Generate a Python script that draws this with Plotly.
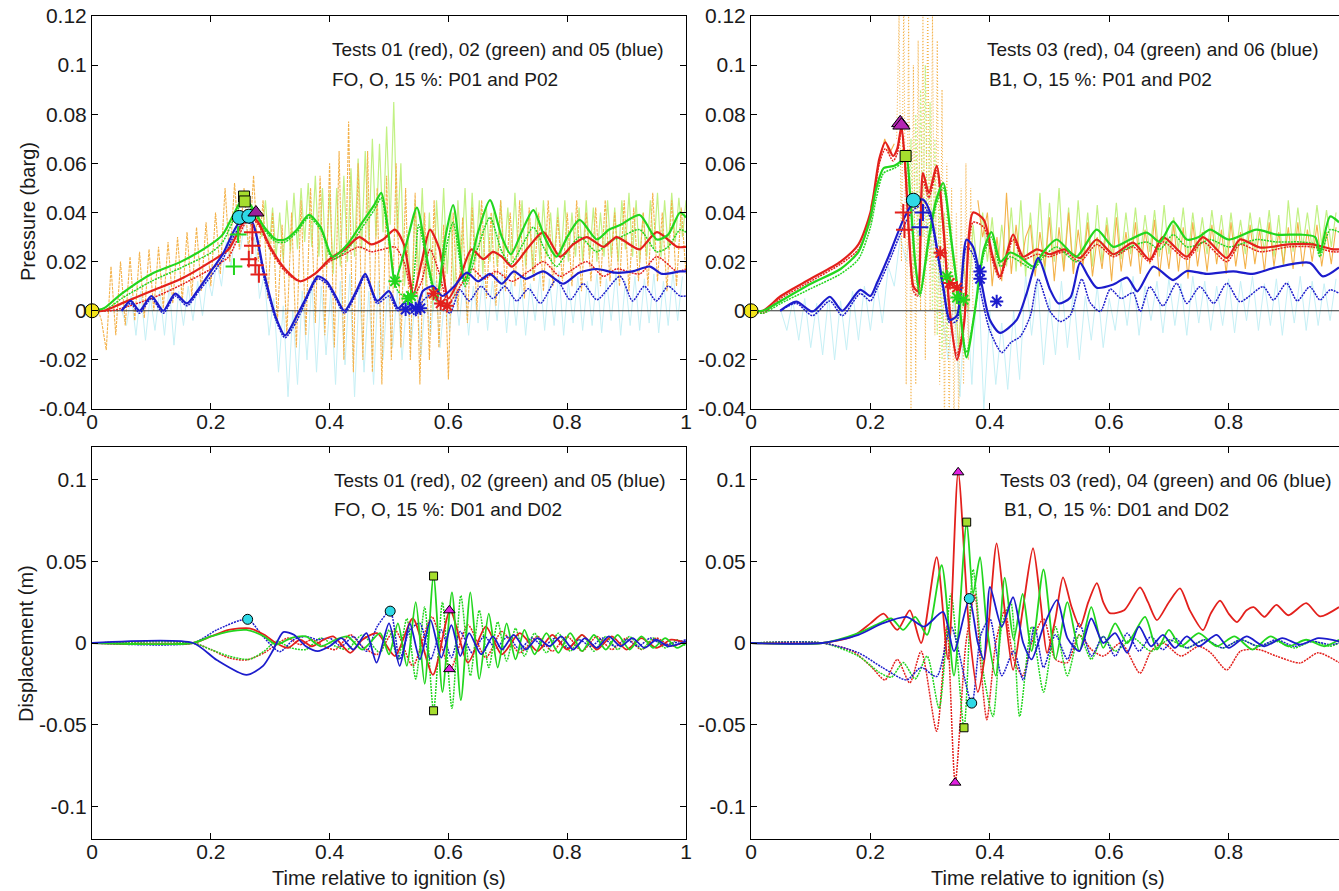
import plotly.graph_objects as go

W, H = 1339, 891

# ---------------- tick labels ----------------
x_tickvals = [0, 0.2, 0.4, 0.6, 0.8, 1.0]
x_ticktext = ["0", "0.2", "0.4", "0.6", "0.8", "1"]
p_tickvals = [-0.04, -0.02, 0, 0.02, 0.04, 0.06, 0.08, 0.1, 0.12]
p_ticktext = ["-0.04", "-0.02", "0", "0.02", "0.04", "0.06", "0.08", "0.1", "0.12"]
d_tickvals = [-0.1, -0.05, 0, 0.05, 0.1]
d_ticktext = ["-0.1", "-0.05", "0", "0.05", "0.1"]

# ---------------- TOP LEFT: FO, O, 15 %: P01 and P02 ----------------
tl_red_p01 = [(0.0,0.0),(0.02,0.0),(0.05,0.003),(0.10,0.008),(0.15,0.013),(0.20,0.020),(0.23,0.025),(0.25,0.034),
              (0.265,0.039),(0.28,0.036),(0.30,0.026),(0.325,0.017),(0.35,0.012),(0.375,0.015),(0.40,0.021),(0.425,0.025),
              (0.45,0.030),(0.47,0.027),(0.49,0.029),(0.51,0.033),(0.525,0.027),(0.541,0.007),(0.555,0.020),(0.569,0.033),
              (0.585,0.025),(0.60,0.005),(0.62,0.014),(0.639,0.025),(0.659,0.021),(0.675,0.024),(0.69,0.022),(0.707,0.018),
              (0.735,0.026),(0.76,0.032),(0.788,0.022),(0.81,0.027),(0.833,0.030),(0.861,0.026),(0.883,0.030),(0.905,0.027),
              (0.922,0.025),(0.951,0.032),(0.985,0.026),(1.0,0.026)]
tl_red_p02 = [(0.0,0.0),(0.03,0.0),(0.05,0.001),(0.10,0.005),(0.15,0.0105),(0.20,0.017),(0.23,0.022),(0.25,0.032),
              (0.265,0.038),(0.28,0.035),(0.30,0.025),(0.325,0.016),(0.35,0.012),(0.375,0.015),(0.40,0.020),(0.425,0.023),
              (0.45,0.026),(0.47,0.024),(0.49,0.025),(0.51,0.026),(0.525,0.020),(0.541,0.006),(0.555,0.012),(0.569,0.025),
              (0.585,0.015),(0.60,0.003),(0.62,0.010),(0.64,0.017),(0.66,0.013),(0.68,0.016),(0.707,0.012),(0.735,0.016),
              (0.76,0.020),(0.788,0.014),(0.81,0.017),(0.833,0.020),(0.861,0.014),(0.883,0.017),(0.922,0.015),(0.951,0.022),
              (0.985,0.016),(1.0,0.017)]
tl_green_p01 = [(0.0,0.0),(0.02,0.001),(0.05,0.007),(0.10,0.015),(0.15,0.020),(0.20,0.027),(0.22,0.031),(0.24,0.040),
                (0.255,0.046),(0.27,0.042),(0.29,0.034),(0.31,0.029),(0.325,0.029),(0.345,0.033),(0.365,0.039),(0.385,0.034),
                (0.405,0.022),(0.43,0.027),(0.455,0.036),(0.475,0.043),(0.487,0.048),(0.50,0.030),(0.51,0.012),(0.53,0.028),
                (0.547,0.042),(0.565,0.020),(0.58,0.005),(0.595,0.030),(0.608,0.043),(0.628,0.012),(0.65,0.032),(0.67,0.045),
                (0.69,0.030),(0.705,0.023),(0.725,0.033),(0.743,0.041),(0.762,0.030),(0.782,0.022),(0.80,0.030),(0.821,0.037),
                (0.85,0.029),(0.87,0.033),(0.89,0.035),(0.922,0.039),(0.951,0.029),(0.97,0.031),(0.99,0.040),(1.0,0.038)]
tl_green_p02 = [(0.0,0.0),(0.02,0.0),(0.05,0.005),(0.10,0.012),(0.15,0.0175),(0.20,0.0236),(0.22,0.028),(0.24,0.038),
                (0.255,0.045),(0.27,0.041),(0.29,0.033),(0.31,0.028),(0.325,0.028),(0.345,0.032),(0.365,0.038),(0.385,0.033),
                (0.405,0.021),(0.43,0.025),(0.455,0.034),(0.475,0.041),(0.487,0.046),(0.50,0.028),(0.515,0.008),(0.535,0.005),
                (0.55,0.035),(0.565,0.018),(0.58,0.004),(0.595,0.024),(0.608,0.036),(0.628,0.010),(0.65,0.026),(0.67,0.038),
                (0.69,0.024),(0.705,0.019),(0.725,0.027),(0.743,0.034),(0.762,0.025),(0.782,0.018),(0.80,0.024),(0.821,0.030),
                (0.85,0.024),(0.87,0.028),(0.89,0.030),(0.922,0.033),(0.951,0.024),(0.97,0.026),(0.99,0.033),(1.0,0.032)]
tl_blue_p01 = [(0.05,0.0),(0.065,0.004),(0.08,0.0),(0.10,0.006),(0.12,0.0),(0.14,0.007),(0.16,0.003),(0.18,0.009),
               (0.20,0.016),(0.22,0.023),(0.24,0.033),(0.255,0.038),(0.27,0.036),(0.29,0.015),(0.31,-0.003),(0.325,-0.010),
               (0.345,-0.002),(0.36,0.005),(0.38,0.014),(0.395,0.012),(0.41,0.006),(0.425,0.0),(0.445,0.008),(0.46,0.015),
               (0.48,0.004),(0.50,0.008),(0.515,0.001),(0.53,0.004),(0.545,0.0),(0.557,0.008),(0.574,0.010),(0.59,0.006),
               (0.61,0.010),(0.631,0.0155),(0.65,0.012),(0.67,0.015),(0.69,0.011),(0.71,0.016),(0.73,0.013),(0.76,0.016),
               (0.793,0.011),(0.82,0.0155),(0.85,0.017),(0.88,0.0155),(0.91,0.016),(0.939,0.018),(0.96,0.015),(0.99,0.016),
               (1.0,0.016)]
tl_blue_p02 = [(0.05,0.0),(0.065,0.003),(0.08,-0.001),(0.10,0.005),(0.12,-0.001),(0.14,0.006),(0.16,0.002),(0.18,0.008),
               (0.20,0.014),(0.22,0.021),(0.24,0.031),(0.255,0.036),(0.27,0.035),(0.29,0.013),(0.31,-0.004),(0.325,-0.011),
               (0.345,-0.004),(0.36,0.004),(0.38,0.013),(0.395,0.011),(0.41,0.005),(0.425,-0.001),(0.445,0.007),(0.46,0.014),
               (0.48,0.003),(0.50,0.006),(0.515,0.0),(0.53,0.002),(0.545,-0.002),(0.557,0.004),(0.574,0.007),(0.59,0.002),
               (0.603,-0.001),(0.619,0.0086),(0.635,0.004),(0.655,0.010),(0.675,0.005),(0.695,0.010),(0.715,0.004),
               (0.735,0.009),(0.755,0.003),(0.782,0.0127),(0.805,0.0045),(0.827,0.011),(0.85,0.0045),(0.889,0.014),
               (0.91,0.004),(0.93,0.010),(0.95,0.004),(0.97,0.010),(0.99,0.006),(1.0,0.006)]

# raw (unfiltered) pressure traces, top left
tl_orange_start, tl_orange_step = 0.0, 0.008
tl_orange = [0.0,0.002,-0.004,-0.016,0.018,-0.010,0.020,-0.006,0.022,-0.004,0.024,-0.003,0.025,0.000,0.026,0.001,
             0.028,0.003,0.030,0.004,0.032,0.006,0.034,0.008,0.036,0.010,0.040,0.015,0.050,0.020,0.052,0.025,
             0.050,0.024,0.055,0.020,0.045,0.005,0.040,-0.005,0.035,-0.010,0.040,-0.015,0.045,-0.010,0.050,-0.005,
             0.055,-0.010,0.060,-0.015,0.065,-0.020,0.077,-0.025,0.060,-0.020,0.065,-0.025,0.050,-0.030,0.055,-0.020,
             0.060,-0.015,0.050,-0.020,0.048,-0.030,0.040,-0.020,0.045,-0.015,0.035,-0.028,0.040,0.000,0.038,-0.005,
             0.042,0.000,0.045,0.005,0.040,0.002,0.045,0.008,0.040,0.010,0.045,0.005,0.042,0.012,0.040,0.008,
             0.045,0.010,0.038,0.012,0.040,0.010,0.045,0.008,0.040,0.012,0.042,0.010,0.045,0.012,0.040,0.010,
             0.045,0.008,0.042,0.012,0.040,0.010,0.048,0.012,0.040,0.008,0.045,0.010,0.042,0.015]
tl_lgreen_start, tl_lgreen_step = 0.28, 0.006
tl_lgreen = [0.040,0.030,0.045,0.025,0.042,0.022,0.040,0.020,0.045,0.024,0.048,0.025,0.050,0.028,
             0.052,0.026,0.055,0.022,0.050,0.018,0.048,0.015,0.050,0.018,0.055,0.020,0.058,0.022,
             0.062,0.025,0.065,0.028,0.070,0.030,0.068,0.032,0.075,0.035,0.085,0.030,0.060,0.010,
             0.030,0.002,0.045,0.015,0.050,0.010,0.040,0.000,0.045,0.020,0.050,0.015,0.040,0.005,
             0.045,0.020,0.050,0.015,0.048,0.020,0.045,0.015,0.042,0.020,0.040,0.018,0.045,0.022,
             0.042,0.020,0.048,0.022,0.045,0.018,0.040,0.015,0.042,0.020,0.045,0.022,0.040,0.020,
             0.042,0.022,0.045,0.020,0.040,0.022,0.042,0.020,0.045,0.022,0.042,0.020,0.040,0.022,
             0.045,0.022,0.042,0.020,0.045,0.025,0.048,0.022,0.045,0.020,0.040,0.022,0.045,0.025,
             0.048,0.022,0.045,0.025,0.048,0.028,0.046,0.030,0.045]
tl_lcyan_start, tl_lcyan_step = 0.05, 0.008
tl_lcyan = [0.0,-0.006,0.006,-0.010,0.008,-0.012,0.006,-0.008,0.008,-0.010,0.010,-0.014,0.008,-0.006,0.010,-0.004,0.012,-0.002,0.014,
            0.006,0.020,0.010,0.028,0.018,0.034,0.025,0.038,0.020,0.030,0.005,0.015,-0.010,
            0.005,-0.025,0.002,-0.035,0.000,-0.030,0.008,-0.020,0.012,-0.025,0.010,-0.018,0.008,-0.030,0.012,-0.022,0.015,-0.035,0.010,-0.025,0.008,-0.030,0.012,-0.020,0.010,
            -0.015,0.008,-0.020,0.005,-0.012,0.010,-0.018,0.008,-0.010,0.012,-0.015,0.006,
            -0.008,0.012,-0.006,0.014,-0.010,0.010,-0.005,0.015,-0.008,0.012,
            -0.004,0.016,-0.009,0.012,-0.006,0.014,-0.010,0.011,-0.004,0.015,
            -0.008,0.013,-0.006,0.016,-0.010,0.012,-0.005,0.014,-0.008,0.012,
            -0.006,0.015,-0.009,0.013,-0.004,0.016,-0.010,0.012,-0.006,0.014,
            -0.008,0.013,-0.005,0.015,-0.009,0.012,-0.006,0.016,-0.004,0.014]

# markers, top left
tl_m_yellow = [(0.0, 0.0)]
tl_m_square = [(0.256, 0.0465), (0.257, 0.0445)]
tl_m_cyan = [(0.248, 0.038), (0.264, 0.0385)]
tl_m_tri = [(0.276, 0.040)]
tl_m_red_plus = [(0.27,0.032),(0.27,0.0265),(0.264,0.021),(0.275,0.0185),(0.281,0.0148)]
tl_m_green_plus = [(0.239,0.018),(0.246,0.031)]
tl_m_green_star = [(0.51,0.012),(0.532,0.005),(0.537,0.006)]
tl_m_blue_star = [(0.528,0.0005),(0.545,0.001),(0.553,0.001)]
tl_m_red_star = [(0.575,0.007),(0.587,0.003),(0.598,0.002)]

# ---------------- TOP RIGHT: B1, O, 15 %: P01 and P02 ----------------
tr_red_p01 = [(0.0,0.0),(0.02,0.0),(0.05,0.006),(0.10,0.013),(0.15,0.020),(0.18,0.027),(0.20,0.040),(0.215,0.062),
              (0.225,0.0686),(0.238,0.063),(0.245,0.066),(0.252,0.075),(0.258,0.060),(0.265,0.030),(0.272,0.010),
              (0.279,0.008),(0.288,0.056),(0.298,0.048),(0.311,0.059),(0.322,0.035),(0.333,0.0),(0.345,-0.020),
              (0.357,-0.005),(0.372,0.040),(0.39,0.037),(0.405,0.022),(0.417,0.014),(0.439,0.031),(0.456,0.022),
              (0.479,0.025),(0.50,0.023),(0.525,0.025),(0.551,0.0215),(0.579,0.029),(0.607,0.023),(0.64,0.0277),
              (0.668,0.0208),(0.69,0.030),(0.73,0.022),(0.757,0.030),(0.797,0.0215),(0.819,0.029),(0.853,0.0257),
              (0.90,0.027),(0.94,0.027),(0.975,0.025),(0.985,0.025)]
tr_red_p02 = [(0.0,0.0),(0.02,-0.001),(0.05,0.005),(0.10,0.012),(0.15,0.019),(0.18,0.025),(0.20,0.037),(0.215,0.060),
              (0.225,0.066),(0.238,0.061),(0.245,0.064),(0.252,0.074),(0.258,0.058),(0.265,0.028),(0.272,0.008),
              (0.279,0.006),(0.288,0.053),(0.298,0.046),(0.311,0.057),(0.322,0.033),(0.333,-0.002),(0.345,-0.018),
              (0.357,-0.004),(0.372,0.036),(0.39,0.034),(0.405,0.020),(0.417,0.013),(0.439,0.029),(0.456,0.021),
              (0.479,0.023),(0.50,0.022),(0.525,0.024),(0.551,0.020),(0.579,0.027),(0.607,0.022),(0.64,0.026),
              (0.668,0.020),(0.69,0.028),(0.73,0.021),(0.757,0.028),(0.797,0.020),(0.819,0.027),(0.853,0.024),
              (0.90,0.026),(0.94,0.026),(0.975,0.024),(0.985,0.024)]
tr_green_p01 = [(0.0,0.0),(0.02,0.0),(0.05,0.004),(0.10,0.011),(0.15,0.017),(0.18,0.024),(0.20,0.038),(0.21,0.050),
                (0.222,0.058),(0.24,0.059),(0.252,0.061),(0.26,0.063),(0.267,0.045),(0.275,0.020),(0.283,0.007),
                (0.298,0.030),(0.31,0.045),(0.322,0.052),(0.335,0.030),(0.348,0.005),(0.361,-0.019),(0.375,0.0),
                (0.39,0.025),(0.403,0.032),(0.418,0.020),(0.434,0.0237),(0.45,0.022),(0.473,0.018),(0.49,0.024),
                (0.512,0.029),(0.545,0.022),(0.579,0.033),(0.607,0.026),(0.635,0.029),(0.663,0.0318),(0.685,0.028),
                (0.707,0.0364),(0.73,0.029),(0.75,0.030),(0.769,0.033),(0.80,0.029),(0.847,0.033),(0.88,0.031),
                (0.92,0.031),(0.945,0.030),(0.953,0.0236),(0.97,0.0384),(0.985,0.036)]
tr_green_p02 = [(0.0,0.0),(0.02,-0.001),(0.05,0.003),(0.10,0.009),(0.15,0.015),(0.18,0.021),(0.20,0.034),(0.21,0.046),
                (0.222,0.056),(0.24,0.058),(0.252,0.060),(0.26,0.062),(0.267,0.044),(0.275,0.019),(0.283,0.006),
                (0.298,0.028),(0.31,0.043),(0.322,0.050),(0.335,0.028),(0.348,0.004),(0.361,-0.017),(0.375,0.0),
                (0.39,0.023),(0.403,0.030),(0.418,0.018),(0.434,0.022),(0.45,0.020),(0.473,0.017),(0.49,0.022),
                (0.512,0.026),(0.545,0.020),(0.579,0.029),(0.607,0.023),(0.635,0.026),(0.663,0.028),(0.685,0.025),
                (0.707,0.031),(0.73,0.026),(0.75,0.027),(0.769,0.029),(0.80,0.026),(0.847,0.029),(0.88,0.028),
                (0.92,0.028),(0.945,0.027),(0.953,0.022),(0.97,0.033),(0.985,0.032)]
tr_blue_p01 = [(0.049,0.0),(0.076,0.0037),(0.103,-0.0003),(0.132,0.0057),(0.153,0.0),(0.183,0.0085),(0.20,0.006),
               (0.211,0.0113),(0.233,0.0236),(0.255,0.037),(0.272,0.044),(0.288,0.0453),(0.30,0.040),(0.322,0.0099),
               (0.333,-0.0037),(0.345,-0.002),(0.361,0.029),(0.372,0.026),(0.386,0.0113),(0.40,-0.0037),(0.417,-0.009),
               (0.445,-0.0037),(0.462,0.0073),(0.481,0.0215),(0.501,0.0086),(0.515,0.003),(0.535,0.0054),(0.551,0.0195),
               (0.565,0.014),(0.579,0.0094),(0.607,0.0107),(0.63,0.0135),(0.647,0.0079),(0.674,0.018),(0.707,0.0125),
               (0.73,0.0162),(0.763,0.015),(0.808,0.016),(0.84,0.015),(0.88,0.0177),(0.936,0.0195),(0.958,0.014),
               (0.985,0.0177)]
tr_blue_p02 = [(0.049,0.0),(0.076,0.003),(0.103,-0.002),(0.132,0.004),(0.153,-0.002),(0.183,0.007),(0.20,0.004),
               (0.211,0.009),(0.233,0.021),(0.255,0.034),(0.272,0.041),(0.288,0.043),(0.30,0.038),(0.322,0.008),
               (0.333,-0.005),(0.345,-0.004),(0.361,0.026),(0.372,0.023),(0.386,0.006),(0.40,-0.008),(0.42,-0.017),
               (0.435,-0.013),(0.451,-0.0105),(0.468,-0.002),(0.481,0.0129),(0.501,-0.0003),(0.518,-0.0044),
               (0.535,-0.0017),(0.554,0.0129),(0.568,0.0033),(0.585,-0.0003),(0.602,0.0088),(0.62,0.005),(0.64,0.0073),
               (0.652,-0.0003),(0.668,0.0098),(0.69,0.002),(0.713,0.0112),(0.73,0.003),(0.752,0.0098),(0.775,0.003),
               (0.797,0.0112),(0.819,0.0037),(0.858,0.0098),(0.875,0.0044),(0.897,0.0112),(0.915,0.004),(0.936,0.0098),
               (0.953,0.0044),(0.97,0.0085),(0.985,0.0071)]

# raw traces, top right
tr_orange_a_start, tr_orange_a_step = 0.20, 0.008
tr_orange_a = [0.042,0.050,0.062,0.070,0.064,0.068]
tr_orange_b_start, tr_orange_b_step = 0.244, 0.004
tr_orange_b = [0.07,0.12,0.02,0.13,-0.03,0.12,-0.04,0.10,-0.03,0.11,0.0,0.12,-0.02,0.13,0.0,0.12,-0.01,0.11,-0.03,
               0.09,-0.05,0.06,-0.05,0.05,-0.05,0.04,-0.05,0.05,-0.03,0.06,-0.02,0.05,0.0]
tr_orange_c_start, tr_orange_c_step = 0.38, 0.008
tr_orange_c = [0.045,0.030,0.040,0.010,0.030,0.012,0.048,0.015,0.035,0.018,0.030,
               0.035,0.014,0.032,0.018,0.038,0.012,0.034,0.016,0.040,0.015,
               0.033,0.018,0.036,0.014,0.030,0.017,0.035,0.012,0.038,0.016,
               0.032,0.018,0.036,0.015,0.033,0.019,0.037,0.014,0.031,0.017,
               0.035,0.016,0.034,0.013,0.036,0.018,0.032,0.016,0.035,0.019,
               0.033,0.015,0.036,0.018,0.032,0.017,0.035,0.019,0.033,0.016,
               0.036,0.018,0.032,0.019,0.034,0.017,0.036,0.018,0.033,0.020,
               0.035,0.018,0.032,0.019,0.034]
tr_lgreen_a_start, tr_lgreen_a_step = 0.26, 0.004
tr_lgreen_a = [0.06,0.03,0.07,0.01,0.08,0.02,0.09,0.03,0.10,0.02,0.085,0.0,0.07,-0.01,0.05,-0.02,0.04,-0.015,0.03]
tr_lgreen_b_start, tr_lgreen_b_step = 0.34, 0.008
tr_lgreen_b = [0.01,-0.015,0.02,0.0,0.035,0.015,0.04,0.02,0.038,0.015,0.035,
               0.018,0.042,0.016,0.045,0.014,0.040,0.018,0.048,0.015,0.044,
               0.020,0.050,0.018,0.042,0.016,0.045,0.020,0.040,0.018,0.043,
               0.020,0.038,0.022,0.044,0.021,0.040,0.023,0.042,0.022,0.039,
               0.024,0.041,0.022,0.043,0.023,0.038,0.025,0.042,0.022,0.040,
               0.024,0.038,0.023,0.041,0.025,0.039,0.022,0.040,0.024,0.037,
               0.023,0.040,0.025,0.038,0.024,0.041,0.022,0.039,0.018,0.045,
               0.024,0.042,0.026,0.040,0.025,0.043,0.027,0.041,0.026,0.040]
tr_lcyan_start, tr_lcyan_step = 0.05, 0.01
tr_lcyan = [0.0,-0.008,0.004,-0.012,0.005,-0.015,0.003,-0.018,0.006,-0.02,0.004,-0.016,0.008,-0.012,0.010,-0.008,0.012,-0.005,0.018,0.010,
            0.030,0.020,0.040,0.030,0.042,0.025,0.030,0.0,
            -0.02,0.005,-0.035,0.01,-0.03,0.02,-0.04,0.0,-0.03,-0.005,-0.032,0.0,-0.028,0.015,
            -0.01,0.012,-0.022,0.005,-0.018,0.012,-0.015,0.008,-0.02,0.006,-0.012,0.010,-0.015,0.005,
            -0.008,0.012,-0.006,0.014,-0.010,0.010,-0.004,0.012,-0.009,0.013,
            -0.006,0.011,-0.010,0.014,-0.005,0.012,-0.008,0.010,-0.006,0.013,
            -0.009,0.012,-0.004,0.014,-0.008,0.011,-0.006,0.013,-0.010,0.012,
            -0.005,0.014,-0.008,0.012,-0.006,0.011,-0.004,0.013]

# markers, top right
tr_m_yellow = [(0.0, 0.0)]
tr_m_tri = [(0.250, 0.0765), (0.252, 0.0755)]
tr_m_square = [(0.259, 0.063)]
tr_m_cyan = [(0.272, 0.045)]
tr_m_red_plus = [(0.255, 0.040), (0.257, 0.033)]
tr_m_blue_plus = [(0.288, 0.040), (0.283, 0.034)]
tr_m_red_star = [(0.317, 0.0236), (0.333, 0.0113), (0.345, 0.0094)]
tr_m_green_star = [(0.328, 0.014), (0.345, 0.0054), (0.356, 0.0045)]
tr_m_blue_star = [(0.3836, 0.016), (0.3836, 0.013), (0.4115, 0.0038)]

# ---------------- BOTTOM LEFT: FO, O, 15 %: D01 and D02 ----------------
bl_red_d01 = [(0.0,0.0),(0.17,0.0),(0.20,0.004),(0.23,0.008),(0.265,0.009),(0.29,0.005),(0.31,0.0),(0.33,-0.003),
              (0.35,0.002),(0.37,-0.002),(0.39,0.002),(0.406,0.004),(0.435,-0.006),(0.455,0.002),(0.48,0.006),
              (0.51,-0.008),(0.54,0.015),(0.574,-0.0195),(0.603,0.020),(0.633,-0.012),(0.663,0.010),(0.69,-0.007),
              (0.72,0.006),(0.75,-0.005),(0.775,0.005),(0.80,-0.004),(0.825,0.005),(0.85,-0.004),(0.875,0.004),
              (0.90,-0.004),(0.925,0.003),(0.95,-0.003),(0.975,0.002),(1.0,0.0)]
bl_red_d02 = [(0.0,0.0),(0.17,0.0),(0.20,-0.004),(0.23,-0.009),(0.26,-0.0104),(0.29,-0.006),(0.31,-0.001),(0.33,0.003),
              (0.35,-0.001),(0.37,0.002),(0.39,-0.002),(0.41,-0.004),(0.435,0.005),(0.455,-0.002),(0.48,-0.007),
              (0.51,0.008),(0.54,-0.014),(0.572,0.016),(0.603,-0.016),(0.633,0.011),(0.663,-0.009),(0.69,0.007),
              (0.72,-0.006),(0.75,0.004),(0.775,-0.005),(0.80,0.004),(0.825,-0.005),(0.85,0.004),(0.875,-0.004),
              (0.90,0.003),(0.925,-0.004),(0.95,0.003),(0.975,-0.002),(1.0,0.001)]
bl_green_d01 = [(0.0,0.0),(0.17,0.0),(0.20,0.004),(0.23,0.007),(0.26,0.008),(0.29,0.004),(0.31,-0.001),(0.335,0.003),
                (0.36,0.004),(0.385,-0.002),(0.41,0.002),(0.43,0.004),(0.455,-0.004),(0.485,0.006),(0.50,-0.007),
                (0.515,0.012),(0.53,-0.014),(0.545,0.025),(0.56,-0.025),(0.575,0.041),(0.59,-0.030),(0.606,0.031),
                (0.621,-0.035),(0.637,0.031),(0.652,-0.022),(0.668,0.018),(0.683,-0.015),(0.698,0.012),(0.713,-0.010),
                (0.728,0.008),(0.745,-0.007),(0.765,0.006),(0.785,-0.006),(0.805,0.006),(0.825,-0.005),(0.845,0.005),
                (0.865,-0.004),(0.885,0.005),(0.905,-0.004),(0.925,0.004),(0.945,-0.003),(0.965,0.003),(0.985,-0.003),
                (1.0,0.0)]
bl_green_d02 = [(0.0,0.0),(0.17,0.0),(0.20,-0.004),(0.23,-0.008),(0.265,-0.010),(0.29,-0.005),(0.31,0.001),(0.335,-0.003),
                (0.36,-0.004),(0.385,0.003),(0.41,-0.002),(0.43,-0.004),(0.455,0.005),(0.485,-0.006),(0.50,0.008),
                (0.515,-0.010),(0.53,0.015),(0.545,-0.022),(0.56,0.022),(0.575,-0.0415),(0.59,0.025),(0.606,-0.040),
                (0.621,0.029),(0.637,-0.020),(0.652,0.020),(0.668,-0.015),(0.683,0.013),(0.698,-0.011),(0.713,0.009),
                (0.728,-0.008),(0.745,0.006),(0.765,-0.006),(0.785,0.006),(0.805,-0.005),(0.825,0.005),(0.845,-0.005),
                (0.865,0.004),(0.885,-0.004),(0.905,0.004),(0.925,-0.004),(0.945,0.003),(0.965,-0.003),(0.985,0.002),
                (1.0,-0.002)]
bl_blue_d01 = [(0.0,0.0),(0.17,0.0),(0.21,-0.0104),(0.26,-0.0195),(0.288,-0.014),(0.305,-0.0043),(0.322,0.0067),
               (0.34,0.005),(0.36,-0.002),(0.38,-0.005),(0.40,-0.002),(0.42,0.003),(0.44,-0.004),(0.462,0.006),
               (0.479,-0.012),(0.50,0.012),(0.518,-0.014),(0.535,0.012),(0.552,-0.010),(0.57,0.014),(0.588,-0.009),
               (0.605,0.011),(0.62,-0.008),(0.635,0.006),(0.655,-0.007),(0.675,0.004),(0.69,-0.004),(0.71,0.005),
               (0.73,-0.004),(0.75,0.003),(0.77,-0.002),(0.79,0.004),(0.81,-0.004),(0.83,0.003),(0.85,-0.003),
               (0.87,0.004),(0.89,-0.002),(0.91,0.003),(0.93,-0.003),(0.95,0.002),(0.97,-0.002),(1.0,0.001)]
bl_blue_d02 = [(0.0,0.0),(0.17,0.0),(0.21,0.008),(0.262,0.0145),(0.288,0.004),(0.316,-0.0053),(0.339,0.002),
               (0.36,0.004),(0.38,0.002),(0.40,0.003),(0.42,-0.002),(0.44,0.004),(0.462,-0.005),(0.48,0.010),
               (0.502,0.0195),(0.518,-0.010),(0.535,0.008),(0.552,0.012),(0.57,-0.010),(0.588,0.008),(0.605,-0.009),
               (0.62,0.007),(0.64,-0.006),(0.66,0.004),(0.68,-0.003),(0.70,0.004),(0.72,-0.004),(0.74,0.003),
               (0.76,-0.002),(0.78,0.003),(0.80,-0.003),(0.82,0.002),(0.84,-0.002),(0.86,0.003),(0.88,-0.002),
               (0.90,0.002),(0.92,-0.002),(0.94,0.003),(0.96,-0.001),(1.0,0.002)]
bl_m_cyan = [(0.262, 0.0145), (0.502, 0.0195)]
bl_m_square = [(0.575, 0.041), (0.575, -0.0415)]
bl_m_tri = [(0.6016, 0.020), (0.6016, -0.016)]

# ---------------- BOTTOM RIGHT: B1, O, 15 %: D01 and D02 ----------------
br_red_d01 = [(0.0,0.0),(0.12,0.0),(0.17,0.004),(0.20,0.012),(0.222,0.018),(0.245,0.008),(0.266,0.020),(0.285,0.0),
              (0.311,0.0526),(0.33,-0.01),(0.347,0.1045),(0.365,0.01),(0.38,-0.03),(0.395,0.0),(0.4115,0.061),
              (0.425,0.02),(0.439,-0.0165),(0.455,0.02),(0.4724,0.058),(0.485,0.025),(0.4958,-0.0061),(0.51,0.015),
              (0.5226,0.0402),(0.537,0.022),(0.551,0.0098),(0.565,0.025),(0.5794,0.0366),(0.59,0.025),(0.601,0.0183),
              (0.625,0.02),(0.6516,0.034),(0.665,0.025),(0.68,0.014),(0.70,0.025),(0.7186,0.0335),(0.735,0.02),
              (0.7571,0.0079),(0.77,0.018),(0.7856,0.026),(0.80,0.018),(0.814,0.0128),(0.83,0.02),(0.842,0.022),
              (0.86,0.016),(0.88,0.0234),(0.90,0.017),(0.93,0.0244),(0.953,0.0163),(0.985,0.022)]
br_red_d02 = [(0.0,0.0),(0.12,0.0),(0.17,-0.005),(0.20,-0.014),(0.2245,-0.0226),(0.245,-0.010),(0.266,-0.0244),
              (0.285,-0.005),(0.311,-0.054),(0.328,0.01),(0.342,-0.0855),(0.36,0.0),(0.375,0.03),(0.384,-0.01),
              (0.395,-0.047),(0.41,0.0),(0.425,0.02),(0.44,-0.01),(0.455,-0.02),(0.47,0.0),(0.49,0.015),(0.51,-0.01),
              (0.53,-0.012),(0.55,0.005),(0.57,-0.004),(0.59,-0.008),(0.62,0.0),(0.6516,-0.0185),(0.67,-0.005),
              (0.69,0.0),(0.72,-0.008),(0.75,-0.002),(0.77,-0.006),(0.797,-0.0165),(0.82,-0.005),(0.85,-0.004),
              (0.88,-0.008),(0.92,-0.0122),(0.95,-0.006),(0.985,-0.012)]
br_green_d01 = [(0.0,0.0),(0.12,0.0),(0.18,0.006),(0.215,0.012),(0.235,0.015),(0.255,0.008),(0.275,0.016),(0.295,0.005),
                (0.3194,0.0476),(0.34,-0.02),(0.3613,0.074),(0.372,0.03),(0.3836,0.0526),(0.395,0.01),(0.41,-0.02),
                (0.425,0.04),(0.44,0.002),(0.455,0.03),(0.47,-0.005),(0.49,0.045),(0.51,-0.01),(0.53,0.025),(0.55,-0.005),
                (0.57,0.022),(0.59,-0.003),(0.61,0.012),(0.63,0.0),(0.66,0.016),(0.68,-0.004),(0.70,0.008),(0.72,-0.002),
                (0.75,0.006),(0.78,-0.002),(0.81,0.004),(0.84,-0.004),(0.87,0.004),(0.90,-0.002),(0.93,0.002),
                (0.96,-0.002),(0.985,0.002)]
br_green_d02 = [(0.0,0.0),(0.12,0.0),(0.18,-0.008),(0.215,-0.018),(0.235,-0.021),(0.255,-0.012),(0.275,-0.022),
                (0.295,-0.008),(0.315,-0.04),(0.335,0.03),(0.3568,-0.0519),(0.372,0.045),(0.39,-0.02),(0.4054,-0.045),
                (0.42,0.01),(0.435,0.025),(0.45,-0.045),(0.47,0.01),(0.49,-0.03),(0.51,0.01),(0.53,-0.02),(0.55,0.005),
                (0.57,-0.01),(0.59,0.004),(0.61,-0.005),(0.64,0.003),(0.67,-0.005),(0.70,0.002),(0.73,-0.003),
                (0.76,0.002),(0.79,-0.003),(0.82,0.002),(0.85,-0.002),(0.88,0.001),(0.91,-0.003),(0.94,0.001),
                (0.97,-0.002),(0.985,0.0)]
br_blue_d01 = [(0.0,0.0),(0.12,0.0),(0.18,0.005),(0.22,0.012),(0.2608,0.016),(0.29,0.010),(0.3216,0.019),(0.34,-0.005),
               (0.3657,0.0272),(0.38,0.0),(0.39,-0.01),(0.4003,0.0343),(0.42,0.01),(0.439,0.028),(0.456,0.0),
               (0.47,-0.01),(0.49,0.01),(0.5126,0.0262),(0.53,0.003),(0.55,-0.005),(0.57,0.015),(0.59,0.0),(0.61,0.006),
               (0.63,-0.006),(0.65,0.010),(0.67,-0.002),(0.69,0.005),(0.71,-0.003),(0.73,0.004),(0.75,-0.002),
               (0.78,0.005),(0.80,-0.003),(0.83,0.004),(0.86,-0.002),(0.89,0.003),(0.92,-0.001),(0.95,0.003),
               (0.985,0.001)]
br_blue_d02 = [(0.0,0.0),(0.12,0.0),(0.18,-0.006),(0.22,-0.015),(0.2608,-0.0226),(0.285,-0.015),(0.311,-0.0205),
               (0.335,0.01),(0.3697,-0.0368),(0.385,0.005),(0.40,0.015),(0.42,-0.02),(0.44,-0.005),(0.456,-0.0226),
               (0.475,0.01),(0.49,-0.015),(0.51,0.005),(0.53,-0.01),(0.55,0.012),(0.57,-0.008),(0.59,0.004),
               (0.61,-0.008),(0.63,0.006),(0.65,-0.005),(0.67,0.004),(0.69,-0.004),(0.71,0.003),(0.73,-0.003),
               (0.76,0.002),(0.79,-0.003),(0.82,0.002),(0.85,-0.002),(0.88,0.002),(0.91,-0.002),(0.94,0.001),
               (0.97,-0.001),(0.985,0.0)]
br_m_tri = [(0.347, 0.1045), (0.342, -0.0855)]
br_m_square = [(0.3613, 0.074), (0.3568, -0.0519)]
br_m_cyan = [(0.3657, 0.0272), (0.3697, -0.0368)]

zero_line_t = [0.0, 1.0]
zero_line_v = [0.0, 0.0]

# ---------------- styles ----------------
RED = "#e3201c"
GREEN = "#22d61e"
BLUE = "#1c1ccc"
ORANGE = "#f4b24a"
LGREEN = "#c2f184"
LCYAN = "#c6f0f6"
FONT = "Arial, Liberation Sans, Helvetica, sans-serif"

fig = go.Figure()

AX = {"tl": ("x", "y"), "tr": ("x2", "y2"), "bl": ("x3", "y3"), "br": ("x4", "y4")}


def add_line(pts, panel, color, width, dash="solid"):
    xa, ya = AX[panel]
    fig.add_trace(go.Scatter(x=[p[0] for p in pts], y=[p[1] for p in pts], mode="lines",
                             line=dict(color=color, width=width, dash=dash, shape="spline", smoothing=0.7),
                             xaxis=xa, yaxis=ya, hoverinfo="skip", showlegend=False))


def add_raw(start, step, vals, panel, color, width=1.0, dash="solid", opacity=1.0):
    xa, ya = AX[panel]
    xs = [round(start + step * i, 4) for i in range(len(vals))]
    fig.add_trace(go.Scatter(x=xs, y=vals, mode="lines", opacity=opacity,
                             line=dict(color=color, width=width, dash=dash),
                             xaxis=xa, yaxis=ya, hoverinfo="skip", showlegend=False))


def add_marks(pts, panel, symbol, size, color, lcolor="black", lwidth=1.0):
    xa, ya = AX[panel]
    fig.add_trace(go.Scatter(x=[p[0] for p in pts], y=[p[1] for p in pts], mode="markers",
                             marker=dict(symbol=symbol, size=size, color=color,
                                         line=dict(color=lcolor, width=lwidth)),
                             cliponaxis=False, xaxis=xa, yaxis=ya, hoverinfo="skip", showlegend=False))


def add_zero(panel):
    xa, ya = AX[panel]
    fig.add_trace(go.Scatter(x=zero_line_t, y=zero_line_v, mode="lines", line=dict(color="#333", width=1),
                             xaxis=xa, yaxis=ya, hoverinfo="skip", showlegend=False))

DOT = "2px,1px"

# --- top left
add_raw(tl_lgreen_start, tl_lgreen_step, tl_lgreen, "tl", LGREEN, 1.2)
add_raw(tl_lcyan_start, tl_lcyan_step, tl_lcyan, "tl", LCYAN, 1.0)
add_raw(tl_orange_start, tl_orange_step, tl_orange, "tl", ORANGE, 1.1, dash="3px,1px")
add_zero("tl")
add_line(tl_red_p02, "tl", RED, 1.5, DOT)
add_line(tl_green_p02, "tl", GREEN, 1.5, DOT)
add_line(tl_blue_p02, "tl", BLUE, 1.5, DOT)
add_line(tl_red_p01, "tl", RED, 2.2)
add_line(tl_green_p01, "tl", GREEN, 2.2)
add_line(tl_blue_p01, "tl", BLUE, 2.2)
add_marks(tl_m_red_plus, "tl", "cross-thin", 12, RED, RED, 2)
add_marks(tl_m_green_plus, "tl", "cross-thin", 12, GREEN, GREEN, 2)
add_marks(tl_m_green_star, "tl", "asterisk", 11, GREEN, GREEN, 2)
add_marks(tl_m_blue_star, "tl", "asterisk", 11, BLUE, BLUE, 2)
add_marks(tl_m_red_star, "tl", "asterisk", 11, RED, RED, 2)
add_marks(tl_m_square, "tl", "square", 11, "#a6dd2e")
add_marks(tl_m_cyan, "tl", "circle", 14, "#2fd9e6")
add_marks(tl_m_tri, "tl", "triangle-up", 14, "#9b1f9b")
add_marks(tl_m_yellow, "tl", "circle", 14, "#f3e41c")

# --- top right
add_raw(tr_lcyan_start, tr_lcyan_step, tr_lcyan, "tr", LCYAN, 1.0)
add_raw(tr_lgreen_a_start, tr_lgreen_a_step, tr_lgreen_a, "tr", LGREEN, 1.2, dash="2px,2px")
add_raw(tr_lgreen_b_start, tr_lgreen_b_step, tr_lgreen_b, "tr", LGREEN, 1.2)
add_raw(tr_orange_a_start, tr_orange_a_step, tr_orange_a, "tr", ORANGE, 1.1)
add_raw(tr_orange_b_start, tr_orange_b_step, tr_orange_b, "tr", ORANGE, 1.1, dash="1px,2px")
add_raw(tr_orange_c_start, tr_orange_c_step, tr_orange_c, "tr", ORANGE, 1.1)
add_zero("tr")
add_line(tr_red_p02, "tr", RED, 1.5, DOT)
add_line(tr_green_p02, "tr", GREEN, 1.5, DOT)
add_line(tr_blue_p02, "tr", BLUE, 1.5, DOT)
add_line(tr_red_p01, "tr", RED, 2.2)
add_line(tr_green_p01, "tr", GREEN, 2.2)
add_line(tr_blue_p01, "tr", BLUE, 2.2)
add_marks(tr_m_red_plus, "tr", "cross-thin", 12, RED, RED, 2)
add_marks(tr_m_blue_plus, "tr", "cross-thin", 12, BLUE, BLUE, 2)
add_marks(tr_m_red_star, "tr", "asterisk", 11, RED, RED, 2)
add_marks(tr_m_green_star, "tr", "asterisk", 11, GREEN, GREEN, 2)
add_marks(tr_m_blue_star, "tr", "asterisk", 11, BLUE, BLUE, 2)
add_marks(tr_m_square, "tr", "square", 11, "#a6dd2e")
add_marks(tr_m_cyan, "tr", "circle", 14, "#2fd9e6")
add_marks(tr_m_tri, "tr", "triangle-up", 15, "#b526b5")
add_marks(tr_m_yellow, "tr", "circle", 14, "#f3e41c")

# --- bottom left
add_line(bl_red_d02, "bl", RED, 1.5, DOT)
add_line(bl_green_d02, "bl", GREEN, 1.5, DOT)
add_line(bl_blue_d02, "bl", BLUE, 1.5, DOT)
add_line(bl_red_d01, "bl", RED, 1.8)
add_line(bl_green_d01, "bl", GREEN, 1.8)
add_line(bl_blue_d01, "bl", BLUE, 1.8)
add_marks(bl_m_cyan, "bl", "circle", 10, "#2fd9e6")
add_marks(bl_m_square, "bl", "square", 8, "#a6dd2e")
add_marks(bl_m_tri, "bl", "triangle-up", 10, "#e020e0")

# --- bottom right
add_line(br_red_d02, "br", RED, 1.5, DOT)
add_line(br_green_d02, "br", GREEN, 1.5, DOT)
add_line(br_blue_d02, "br", BLUE, 1.5, DOT)
add_line(br_red_d01, "br", RED, 1.8)
add_line(br_green_d01, "br", GREEN, 1.8)
add_line(br_blue_d01, "br", BLUE, 1.8)
add_marks(br_m_cyan, "br", "circle", 10, "#2fd9e6")
add_marks(br_m_square, "br", "square", 8, "#a6dd2e")
add_marks(br_m_tri, "br", "triangle-up", 10, "#e020e0")

# ---------------- layout ----------------
def fx(p):
    return p / W


def fy(p):
    return 1 - p / H


xL = [fx(92), fx(686)]
xR = [fx(751), 1.0]
yT = [fy(409), fy(16)]
yB = [fy(839), fy(447)]
XR_END = (W - 751) / 597.0

base = dict(ticks="inside", ticklen=6, tickwidth=1, tickcolor="black", showline=True, linecolor="black",
            linewidth=1, showgrid=False, zeroline=False, automargin=False,
            tickfont=dict(family=FONT, size=21, color="#1a1a1a"))
xbase = dict(base, ticklabelstandoff=-6)

fig.update_layout(
    template="none",
    width=W, height=H, margin=dict(l=0, r=0, t=0, b=0, pad=0),
    paper_bgcolor="white", plot_bgcolor="white", showlegend=False,
    font=dict(family=FONT, size=20, color="#1a1a1a"),
    xaxis=dict(xbase, domain=xL, anchor="y", range=[0, 1], tickvals=x_tickvals, ticktext=x_ticktext, mirror="ticks"),
    yaxis=dict(base, domain=yT, anchor="x", range=[-0.04, 0.12], tickvals=p_tickvals, ticktext=p_ticktext, mirror="ticks"),
    xaxis2=dict(xbase, domain=xR, anchor="y2", range=[0, XR_END], tickvals=x_tickvals, ticktext=x_ticktext, mirror="ticks"),
    yaxis2=dict(base, domain=yT, anchor="x2", range=[-0.04, 0.12], tickvals=p_tickvals, ticktext=p_ticktext, mirror=False),
    xaxis3=dict(xbase, domain=xL, anchor="y3", range=[0, 1], tickvals=x_tickvals, ticktext=x_ticktext, mirror="ticks"),
    yaxis3=dict(base, domain=yB, anchor="x3", range=[-0.12, 0.12], tickvals=d_tickvals, ticktext=d_ticktext, mirror="ticks"),
    xaxis4=dict(xbase, domain=xR, anchor="y4", range=[0, XR_END], tickvals=x_tickvals, ticktext=x_ticktext, mirror="ticks"),
    yaxis4=dict(base, domain=yB, anchor="x4", range=[-0.12, 0.12], tickvals=d_tickvals, ticktext=d_ticktext, mirror=False),
)

texts = [
    ("Tests 01 (red), 02 (green) and 05 (blue)", 330, 50),
    ("FO, O, 15 %: P01 and P02", 330, 79),
    ("Tests 03 (red), 04 (green) and 06 (blue)", 985, 50),
    ("B1, O, 15 %: P01 and P02", 987, 79),
    ("Tests 01 (red), 02 (green) and 05 (blue)", 332, 480),
    ("FO, O, 15 %: D01 and D02", 332, 510),
    ("Tests 03 (red), 04 (green) and 06 (blue)", 998, 480),
    ("B1, O, 15 %: D01 and D02", 1002, 510),
]
ann = []
for t, px, py in texts:
    ann.append(dict(text=t, x=fx(px), y=fy(py), xref="paper", yref="paper", xanchor="left", yanchor="middle",
                    showarrow=False, font=dict(family=FONT, size=19, color="#1a1a1a")))
for t, px, py, ang in [("Pressure (barg)", 28, 212, -90), ("Displacement (m)", 26, 644, -90),
                       ("Time relative to ignition (s)", 389, 878, 0),
                       ("Time relative to ignition (s)", 1048, 878, 0)]:
    ann.append(dict(text=t, x=fx(px), y=fy(py), xref="paper", yref="paper", xanchor="center", yanchor="middle",
                    textangle=ang, showarrow=False, font=dict(family=FONT, size=20, color="#1a1a1a")))
fig.update_layout(annotations=ann)

fig.write_html("out.html")
